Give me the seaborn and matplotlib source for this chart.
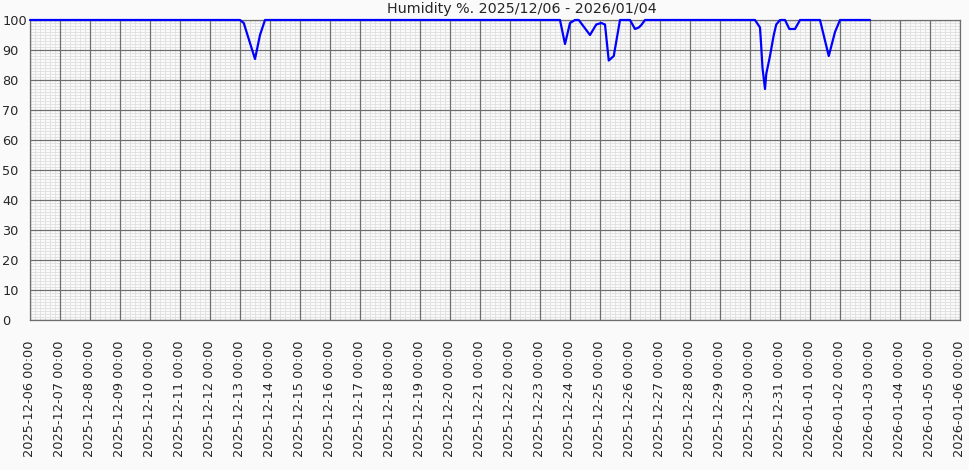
import matplotlib
matplotlib.use("Agg")
import matplotlib.pyplot as plt
import matplotlib.dates as mdates
from matplotlib.ticker import MultipleLocator
import numpy as np
import pandas as pd
import seaborn as sns

# ---- data ----
times = [
    "2025-12-06 00:00", "2025-12-13 00:00", "2025-12-13 03:00", "2025-12-13 12:00",
    "2025-12-13 16:00", "2025-12-13 20:00",
    "2025-12-23 16:00", "2025-12-23 20:00", "2025-12-24 00:00", "2025-12-24 04:00",
    "2025-12-24 07:00", "2025-12-24 16:00", "2025-12-24 21:00", "2025-12-25 01:00",
    "2025-12-25 04:00", "2025-12-25 07:00", "2025-12-25 11:00", "2025-12-25 16:00",
    "2025-12-26 00:00", "2025-12-26 04:00", "2025-12-26 07:00", "2025-12-26 09:00",
    "2025-12-26 12:00",
    "2025-12-30 04:00", "2025-12-30 08:00", "2025-12-30 09:00", "2025-12-30 10:00",
    "2025-12-30 12:00", "2025-12-30 13:00", "2025-12-30 16:00", "2025-12-30 19:00",
    "2025-12-30 21:00", "2025-12-31 00:00", "2025-12-31 04:00", "2025-12-31 07:30",
    "2025-12-31 12:00", "2025-12-31 16:00", "2026-01-01 08:00", "2026-01-01 15:00",
    "2026-01-01 20:00", "2026-01-02 00:00", "2026-01-03 00:00",
]
humidity = [
    100, 100, 99, 87,
    95, 100,
    100, 92, 99, 100,
    100, 95, 98.5, 99,
    98.5, 86.5, 88, 100,
    100, 97, 97.5, 98.3,
    100,
    100, 97.5, 91, 84,
    77, 82, 88, 95,
    98.5, 100, 100, 97,
    97, 100, 100, 88,
    96, 100, 100,
]
x_start = "2025-12-06"
x_end = "2026-01-06"
title = "Humidity %. 2025/12/06 - 2026/01/04"

df = pd.DataFrame({"time": pd.to_datetime(times), "humidity": humidity})

sns.set_style("white")
plt.rcParams["font.family"] = ["DejaVu Sans"]

W, H = 970, 470
fig = plt.figure(figsize=(W / 100, H / 100), dpi=100, facecolor="#fafafa")
ax = fig.add_axes([30 / W, 150 / H, 930 / W, 300 / H])
ax.set_facecolor("#fafafa")

sns.lineplot(data=df, x="time", y="humidity", ax=ax, color="#0000ff",
             linewidth=1.6, zorder=5)
for ln in ax.lines:
    ln.set_clip_on(False)

t0, t1 = pd.Timestamp(x_start), pd.Timestamp(x_end)
ax.set_xlabel("")
ax.set_ylabel("")

ax.yaxis.set_major_locator(MultipleLocator(10))
ax.xaxis.set_major_locator(mdates.DayLocator(interval=1))
ax.xaxis.set_major_formatter(mdates.DateFormatter("%Y-%m-%d %H:%M"))

# minor grid drawn beneath the major grid
minor_y = [v for v in np.arange(0, 101, 1) if v % 10 != 0]
minor_x = [t for t in pd.date_range(t0, t1, freq="4h") if t.hour != 0]
ax.hlines(minor_y, t0, t1, colors="#e2e2e2", linewidth=0.7, zorder=0.1)
ax.vlines(minor_x, 0, 100, colors="#e2e2e2", linewidth=0.7, zorder=0.1)
ax.set_xlim(t0, t1)
ax.set_ylim(0, 100)

ax.grid(which="major", color="#6e6e6e", linewidth=0.9)
ax.set_axisbelow(True)
for sp in ax.spines.values():
    sp.set_color("#6e6e6e")
    sp.set_linewidth(0.9)

ax.tick_params(which="both", length=0)
ax.tick_params(axis="x", pad=15, labelrotation=90, labelsize=9.3)
ax.tick_params(axis="y", pad=20, labelsize=9.3)
for lab in ax.get_yticklabels():
    lab.set_horizontalalignment("left")

fig.text(522 / W, 1 - 9 / H, title, ha="center", va="center", fontsize=10.3)

fig.savefig("out.png", dpi=100, facecolor=fig.get_facecolor())
